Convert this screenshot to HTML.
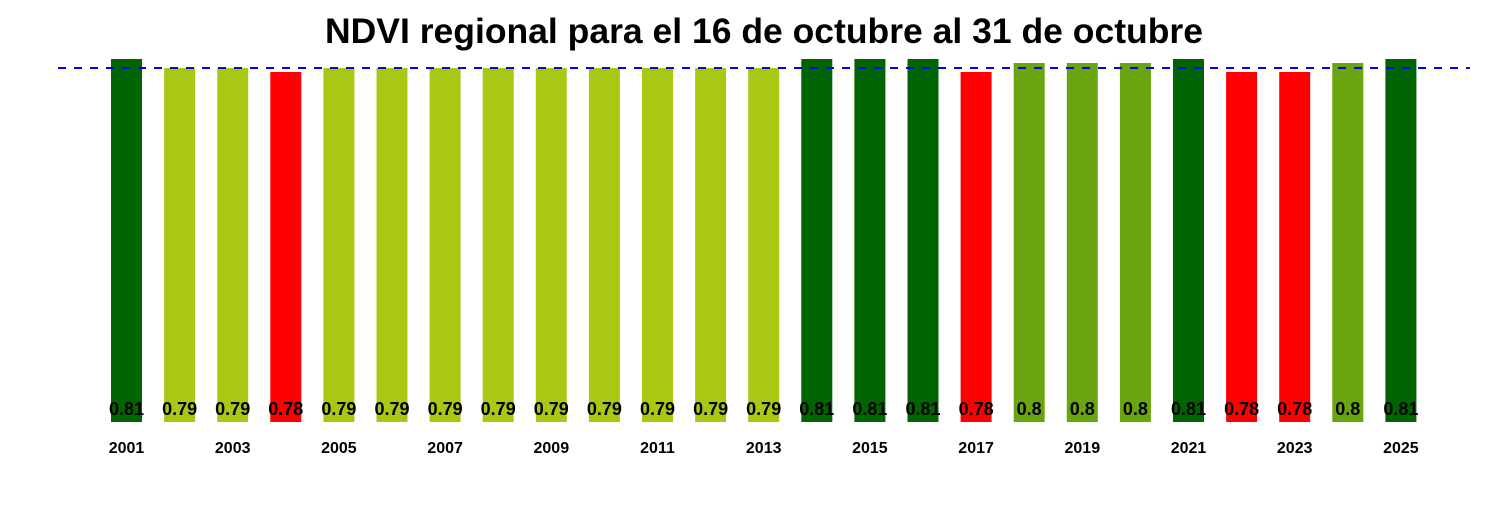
<!DOCTYPE html>
<html><head><style>body{margin:0;background:#fff}</style></head><body>
<svg width="1500" height="500" xmlns="http://www.w3.org/2000/svg" font-family="Liberation Sans, Arial, sans-serif" font-weight="bold">
<text x="764" y="43" text-anchor="middle" font-size="35.5">NDVI regional para el 16 de octubre al 31 de octubre</text>
<g>
<rect x="111" y="59" width="31" height="363" fill="#006400"/>
<rect x="164.1" y="68" width="31" height="354" fill="#A8C814"/>
<rect x="217.2" y="68" width="31" height="354" fill="#A8C814"/>
<rect x="270.3" y="72" width="31" height="350" fill="#FF0000"/>
<rect x="323.4" y="68" width="31" height="354" fill="#A8C814"/>
<rect x="376.5" y="68" width="31" height="354" fill="#A8C814"/>
<rect x="429.6" y="68" width="31" height="354" fill="#A8C814"/>
<rect x="482.7" y="68" width="31" height="354" fill="#A8C814"/>
<rect x="535.8" y="68" width="31" height="354" fill="#A8C814"/>
<rect x="588.9" y="68" width="31" height="354" fill="#A8C814"/>
<rect x="642" y="68" width="31" height="354" fill="#A8C814"/>
<rect x="695.1" y="68" width="31" height="354" fill="#A8C814"/>
<rect x="748.2" y="68" width="31" height="354" fill="#A8C814"/>
<rect x="801.3" y="59" width="31" height="363" fill="#006400"/>
<rect x="854.4" y="59" width="31" height="363" fill="#006400"/>
<rect x="907.5" y="59" width="31" height="363" fill="#006400"/>
<rect x="960.6" y="72" width="31" height="350" fill="#FF0000"/>
<rect x="1013.7" y="63" width="31" height="359" fill="#6AA50F"/>
<rect x="1066.8" y="63" width="31" height="359" fill="#6AA50F"/>
<rect x="1119.9" y="63" width="31" height="359" fill="#6AA50F"/>
<rect x="1173" y="59" width="31" height="363" fill="#006400"/>
<rect x="1226.1" y="72" width="31" height="350" fill="#FF0000"/>
<rect x="1279.2" y="72" width="31" height="350" fill="#FF0000"/>
<rect x="1332.3" y="63" width="31" height="359" fill="#6AA50F"/>
<rect x="1385.4" y="59" width="31" height="363" fill="#006400"/>
</g>
<line x1="58" y1="68" x2="1470" y2="68" stroke="#0000ff" stroke-width="2" stroke-dasharray="8,8"/>
<g font-size="18" text-anchor="middle">
<text x="126.5" y="415">0.81</text><text x="179.6" y="415">0.79</text><text x="232.7" y="415">0.79</text><text x="285.8" y="415">0.78</text><text x="338.9" y="415">0.79</text><text x="392" y="415">0.79</text><text x="445.1" y="415">0.79</text><text x="498.2" y="415">0.79</text><text x="551.3" y="415">0.79</text><text x="604.4" y="415">0.79</text><text x="657.5" y="415">0.79</text><text x="710.6" y="415">0.79</text><text x="763.7" y="415">0.79</text><text x="816.8" y="415">0.81</text><text x="869.9" y="415">0.81</text><text x="923" y="415">0.81</text><text x="976.1" y="415">0.78</text><text x="1029.2" y="415">0.8</text><text x="1082.3" y="415">0.8</text><text x="1135.4" y="415">0.8</text><text x="1188.5" y="415">0.81</text><text x="1241.6" y="415">0.78</text><text x="1294.7" y="415">0.78</text><text x="1347.8" y="415">0.8</text><text x="1400.9" y="415">0.81</text>
</g>
<g font-size="16" text-anchor="middle">
<text x="126.5" y="453">2001</text><text x="232.7" y="453">2003</text><text x="338.9" y="453">2005</text><text x="445.1" y="453">2007</text><text x="551.3" y="453">2009</text><text x="657.5" y="453">2011</text><text x="763.7" y="453">2013</text><text x="869.9" y="453">2015</text><text x="976.1" y="453">2017</text><text x="1082.3" y="453">2019</text><text x="1188.5" y="453">2021</text><text x="1294.7" y="453">2023</text><text x="1400.9" y="453">2025</text>
</g>
</svg>
</body></html>
